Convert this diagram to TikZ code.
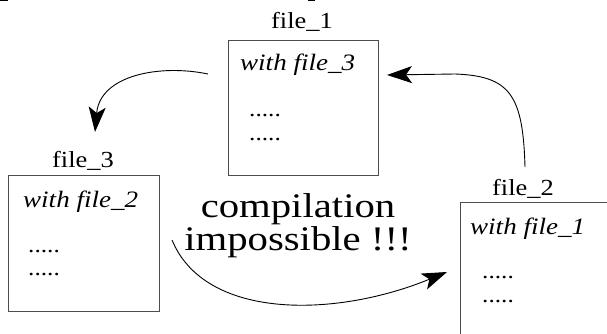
\documentclass[tikz,border=0pt]{standalone}
\usepackage{fontspec}
\setmainfont{Liberation Serif}
\usetikzlibrary{arrows.meta}
\newcommand\sx[2][1.15]{\scalebox{#1}[1]{#2}}
\begin{document}
\begin{tikzpicture}[x=1pt,y=-1pt,
  filebox/.style={draw=black!70,line width=0.9pt,inner sep=0pt},
  title/.style={anchor=base,inner sep=0pt,font=\fontsize{23}{24}\selectfont},
  incl/.style={anchor=base west,inner sep=0pt,font=\fontsize{23.5}{24}\selectfont\itshape},
  dots/.style={anchor=base west,inner sep=0pt,font=\fontsize{22}{24}\selectfont},
  big/.style={anchor=base,inner sep=0pt,align=center,font=\fontsize{34.5}{33.5}\selectfont},
  arr/.style={line width=0.9pt,-{Stealth[length=25pt,width=17pt,inset=6pt]}}]
\useasboundingbox (0,0) rectangle (607,334);
\clip (0,0) rectangle (607,334);
\fill[white] (0,0) rectangle (607,334);
% stray marks at top edge
\fill (0,0) rectangle (8,1.5);
\fill (308,0) rectangle (315,1.5);
% boxes
\node[filebox,minimum width=150pt,minimum height=135pt] (b1) at (303,107.5) {};
\node[filebox,minimum width=151pt,minimum height=136pt] (b3) at (83.5,243) {};
\node[filebox,minimum width=165pt,minimum height=148pt] (b2) at (542.5,276) {};
% titles
\node[title] (t1) at (302,29) {\sx{file\_1}};
\node[title] (t3) at (83,167) {\sx{file\_3}};
\node[title] (t2) at (523,195) {\sx{file\_2}};
% contents
\node[incl] (i1) at (240,71) {\sx{with file\_3}};
\node[incl] (i3) at (23,207) {\sx{with file\_2}};
\node[incl] (i2) at (470,234) {\sx{with file\_1}};
\node[dots] (d1a) at (249,117) {\sx{.....}};
\node[dots] (d1b) at (249,140) {\sx{.....}};
\node[dots] (d3a) at (28,252) {\sx{.....}};
\node[dots] (d3b) at (28,275) {\sx{.....}};
\node[dots] (d2a) at (482,278) {\sx{.....}};
\node[dots] (d2b) at (482,302) {\sx{.....}};
% message
\node[big] (msg) at (298,250.5) {\sx[1.18]{compilation}\\\sx[1.18]{impossible !!!}};
% arrows
\coordinate (a1s) at (208,74);
\coordinate (a1e) at (95,132);
\coordinate (a2s) at (525,167);
\coordinate (a2m) at (455,74);
\coordinate (a2e) at (387,75);
\coordinate (a3s) at (172,240);
\coordinate (a3e) at (447,272);
\draw[arr] (a1s) .. controls (160,64) and (100,75) .. (a1e);
\draw[arr] (a2s) .. controls (523,95) and (510,76) .. (a2m) -- (a2e);
\draw[arr] (a3s) .. controls (205,320) and (335,318) .. (a3e);
\end{tikzpicture}
\end{document}
